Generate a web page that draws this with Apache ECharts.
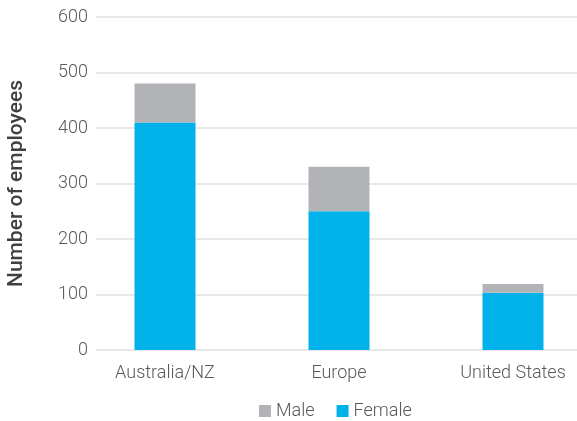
<!DOCTYPE html>
<html><head><meta charset="utf-8">
<script src="https://cdn.jsdelivr.net/npm/echarts@6/dist/echarts.min.js"></script>
<style>html,body{margin:0;padding:0;background:#fff}#c{width:577px;height:421px}</style>
</head><body><div id="c"></div>
<script>
const categories = ['Australia/NZ', 'Europe', 'United States'];
const maleValues = [70, 80, 16];
const femaleValues = [410, 250, 103];
const yTicks = [0, 100, 200, 300, 400, 500, 600];

const chart = echarts.init(document.getElementById('c'), null, {renderer: 'canvas'});
const font = 'Roboto';
chart.setOption({
  animation: false,
  textStyle: {fontFamily: font},
  legend: {
    data: ['Male', 'Female'],
    bottom: 1, left: 259, padding: 0,
    icon: 'rect', itemWidth: 12, itemHeight: 12, itemGap: 22,
    textStyle: {fontSize: 18, color: '#595959', fontWeight: 300, fontFamily: font}
  },
  grid: [
    {left: 96, right: 0, top: 17, bottom: 71, outerBoundsMode: 'none'},
    {left: 78, width: 522, top: 17, bottom: 71, outerBoundsMode: 'none'}
  ],
  xAxis: [
    {gridIndex: 0, type: 'category', data: categories, show: false},
    {gridIndex: 1, type: 'category', data: categories,
     axisLine: {show: false}, axisTick: {show: false},
     axisLabel: {fontSize: 18, color: '#595959', fontWeight: 300, margin: 14, fontFamily: font}}
  ],
  yAxis: [
    {gridIndex: 0, type: 'value', min: yTicks[0], max: yTicks[yTicks.length - 1], interval: 100,
     name: 'Number of employees', nameLocation: 'middle', nameGap: 69,
     nameTextStyle: {fontSize: 21, color: '#404040', fontWeight: 500, fontFamily: font},
     axisLabel: {fontSize: 18, color: '#595959', fontWeight: 300, margin: 8, fontFamily: font},
     splitLine: {lineStyle: {color: '#E8E8E8', width: 2}},
     axisLine: {show: false}, axisTick: {show: false}},
    {gridIndex: 1, type: 'value', min: yTicks[0], max: yTicks[yTicks.length - 1], interval: 100,
     show: false, splitLine: {show: false}}
  ],
  series: [
    {name: 'Female', type: 'bar', stack: 'a', xAxisIndex: 1, yAxisIndex: 1,
     data: femaleValues, barWidth: 61, itemStyle: {color: '#00B2E9'}},
    {name: 'Male', type: 'bar', stack: 'a', xAxisIndex: 1, yAxisIndex: 1,
     data: maleValues, barWidth: 61, itemStyle: {color: '#B1B3B6'}}
  ]
});
</script></body></html>
